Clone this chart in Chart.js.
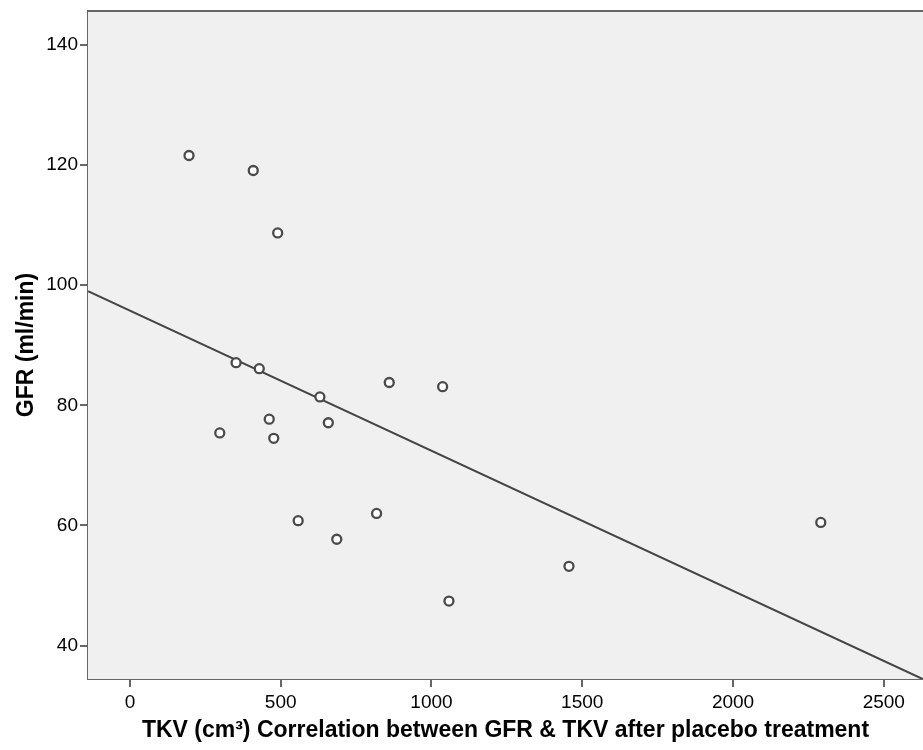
<!DOCTYPE html>
<html>
<head>
<meta charset="utf-8">
<script src="https://cdn.jsdelivr.net/npm/chart.js@4/dist/chart.umd.min.js"></script>
<style>
html,body{margin:0;padding:0;background:#fff;overflow:hidden;}
#wrap{width:923px;height:750px;position:relative;}
canvas{display:block;}
</style>
</head>
<body>
<div id="wrap"><canvas id="c" width="923" height="750"></canvas></div>
<script>
// Data
const tkv = [196, 409, 490, 352, 429, 630, 860, 1037, 462, 658, 298, 477, 558, 818, 686, 1456, 1058, 2291];
const gfr = [121.6, 119.1, 108.7, 87.1, 86.1, 81.4, 83.8, 83.1, 77.7, 77.1, 75.4, 74.5, 60.8, 62.0, 57.7, 53.2, 47.4, 60.5];
// Regression line endpoints (at the frame edges)
const fitX = [-139, 2630];
const fitY = [99.0, 34.4];
const xTicks = [0, 500, 1000, 1500, 2000, 2500];
const yTicks = [40, 60, 80, 100, 120, 140];
const xTitle = 'TKV (cm\u00B3) Correlation between GFR & TKV after placebo treatment';
const yTitle = 'GFR (ml/min)';

const points = tkv.map((x, i) => ({x: x, y: gfr[i]}));
const fit = fitX.map((x, i) => ({x: x, y: fitY[i]}));

const frame = {
  id: 'frame',
  beforeDatasetsDraw(chart) {
    const {ctx, chartArea: a} = chart;
    ctx.save();
    ctx.fillStyle = '#f0f0f0';
    ctx.fillRect(a.left, a.top, a.right - a.left, a.bottom - a.top);
    ctx.restore();
  },
  afterDraw(chart) {
    const {ctx, chartArea: a} = chart;
    ctx.save();
    ctx.strokeStyle = '#666';
    ctx.lineWidth = 2;
    ctx.beginPath();
    ctx.moveTo(a.left - 1, a.top);
    ctx.lineTo(a.right, a.top);
    ctx.stroke();
    ctx.restore();
  }
};

const FONT = "'Liberation Sans', Arial, sans-serif";

new Chart(document.getElementById('c'), {
  type: 'scatter',
  data: {
    datasets: [
      {
        data: fit,
        showLine: true,
        borderColor: '#444',
        borderWidth: 2,
        pointRadius: 0,
        pointHoverRadius: 0,
        fill: false,
        order: 2
      },
      {
        data: points,
        pointRadius: 4.5,
        pointHoverRadius: 4.5,
        borderWidth: 2.3,
        borderColor: '#4a4a4a',
        backgroundColor: '#ffffff',
        order: 1
      }
    ]
  },
  options: {
    responsive: false,
    animation: false,
    devicePixelRatio: 1,
    layout: {autoPadding: false, padding: {top: 11, right: 0, left: 0, bottom: 0}},
    plugins: {legend: {display: false}, tooltip: {enabled: false}},
    scales: {
      x: {
        type: 'linear',
        min: -139,
        max: 2630,
        afterFit(s) { s.height = 71; s.paddingLeft = 0; s.paddingRight = 0; },
        afterBuildTicks(s) { s.ticks = xTicks.map(v => ({value: v})); },
        border: {display: true, color: '#666', width: 2},
        grid: {display: true, drawOnChartArea: false, drawTicks: true, tickLength: 8, color: '#666', lineWidth: 2},
        ticks: {color: '#000', font: {family: FONT, size: 19}, padding: 4, maxRotation: 0, includeBounds: false,
                callback: v => String(v)},
        title: {display: true, text: xTitle, color: '#000', font: {family: FONT, size: 23, weight: 'bold'}, padding: {top: 0, bottom: 6}}
      },
      y: {
        type: 'linear',
        min: 34.43,
        max: 145.66,
        afterFit(s) { s.width = 88; s.paddingTop = 0; s.paddingBottom = 0; },
        afterBuildTicks(s) { s.ticks = yTicks.map(v => ({value: v})); },
        border: {display: true, color: '#666', width: 2},
        grid: {display: true, drawOnChartArea: false, drawTicks: true, tickLength: 8, color: '#666', lineWidth: 2},
        ticks: {color: '#000', font: {family: FONT, size: 19}, padding: 2, includeBounds: false,
                callback: v => String(v)},
        title: {display: true, text: yTitle, color: '#000', font: {family: FONT, size: 23, weight: 'bold'}, padding: {top: 13, bottom: 0}}
      }
    }
  },
  plugins: [frame]
});
</script>
</body>
</html>
